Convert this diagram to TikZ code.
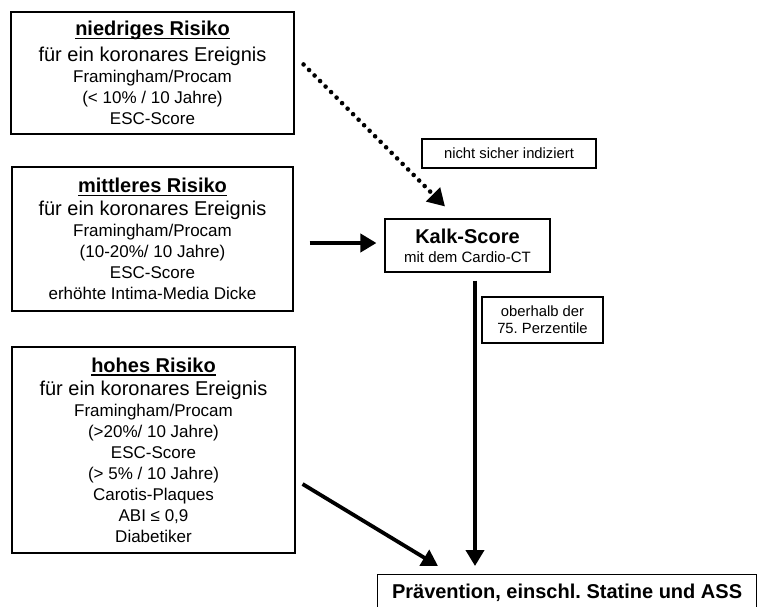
\documentclass[tikz,border=0pt]{standalone}
\usepackage{fontspec}
\setmainfont{Liberation Sans}
\usetikzlibrary{arrows.meta,calc}
\frenchspacing
\newcommand\myul[1]{\setbox0\hbox{#1}\rlap{\rule[-3.4pt]{\wd0}{1.3pt}}\box0}
\begin{document}
\begin{tikzpicture}[x=1pt,y=-1pt,
  box/.style={draw, line width=1.1pt, align=center, inner sep=0pt,
    font=\fontsize{17}{21}\selectfont},
  small/.style={draw, line width=1.1pt, align=center, inner sep=0pt,
    font=\fontsize{14.8}{17}\selectfont},
  arr/.style={line width=3.8pt, -{Triangle[width=18pt,length=16pt]}},
  dotarr/.style={line width=4.6pt, line cap=round, dash pattern=on 0pt off 7.8pt,
    -{Triangle[width=19pt,length=17pt]}}]
\useasboundingbox (0,0) rectangle (761,606);
\clip (0,0) rectangle (761,606);
\fill[white] (0,0) rectangle (761,606);

\node[box, minimum width=283pt, minimum height=122pt] (low) at (152.5,73)
  {{\fontsize{20}{24}\selectfont\bfseries\myul{niedriges Risiko}}\\[5pt]
   {\fontsize{20}{24}\selectfont für ein koronares Ereignis}\\
   Framingham/Procam\\ (< 10\% / 10 Jahre)\\ ESC-Score};

\node[box, minimum width=281pt, minimum height=144pt] (mid) at (152.5,239)
  {{\fontsize{20}{24}\selectfont\bfseries\myul{mittleres Risiko}}\\[2pt]
   {\fontsize{20}{24}\selectfont für ein koronares Ereignis}\\
   Framingham/Procam\\ (10-20\%/ 10 Jahre)\\ ESC-Score\\ erhöhte Intima-Media Dicke};

\node[box, minimum width=283pt, minimum height=206pt] (high) at (153.5,450)
  {{\fontsize{20}{24}\selectfont\bfseries\myul{hohes Risiko}}\\[2pt]
   {\fontsize{20}{24}\selectfont für ein koronares Ereignis}\\
   Framingham/Procam\\ (>20\%/ 10 Jahre)\\ ESC-Score\\ (> 5\% / 10 Jahre)\\
   Carotis-Plaques\\ ABI ≤ 0,9\\ Diabetiker};

\node[small, minimum width=174pt, minimum height=29pt] (nicht) at (509,153.5)
  {nicht sicher indiziert};

\node[small, minimum width=165pt, minimum height=53pt] (kalk) at (467.5,245.5)
  {{\fontsize{20}{24}\selectfont\bfseries Kalk-Score}\\[2pt]
   {\fontsize{15}{17}\selectfont mit dem Cardio-CT}};

\node[small, minimum width=121pt, minimum height=46pt] (ober) at (542.5,320)
  {oberhalb der\\ 75. Perzentile};

\node[draw, line width=1.1pt, inner sep=0pt, anchor=north west,
  minimum width=379pt, minimum height=37.5pt, text height=14.5pt, text depth=4pt,
  font=\fontsize{20}{24}\selectfont\bfseries] (prev) at (377,574)
  {Prävention, einschl. Statine und ASS};

\draw[dotarr] ([shift={(9,53)}]low.north east) -- ([shift={(-22.5,-12)}]kalk.north);
\draw[arr] ([shift={(16,4)}]mid.east) -- ([shift={(-8,-2.5)}]kalk.west);
\draw[arr] ([shift={(7.5,8)}]kalk.south) -- ([shift={(98,-8)}]prev.north west);
\draw[arr] ([shift={(7,34)}]high.east) -- ([shift={(61,-8)}]prev.north west);
\end{tikzpicture}
\end{document}
